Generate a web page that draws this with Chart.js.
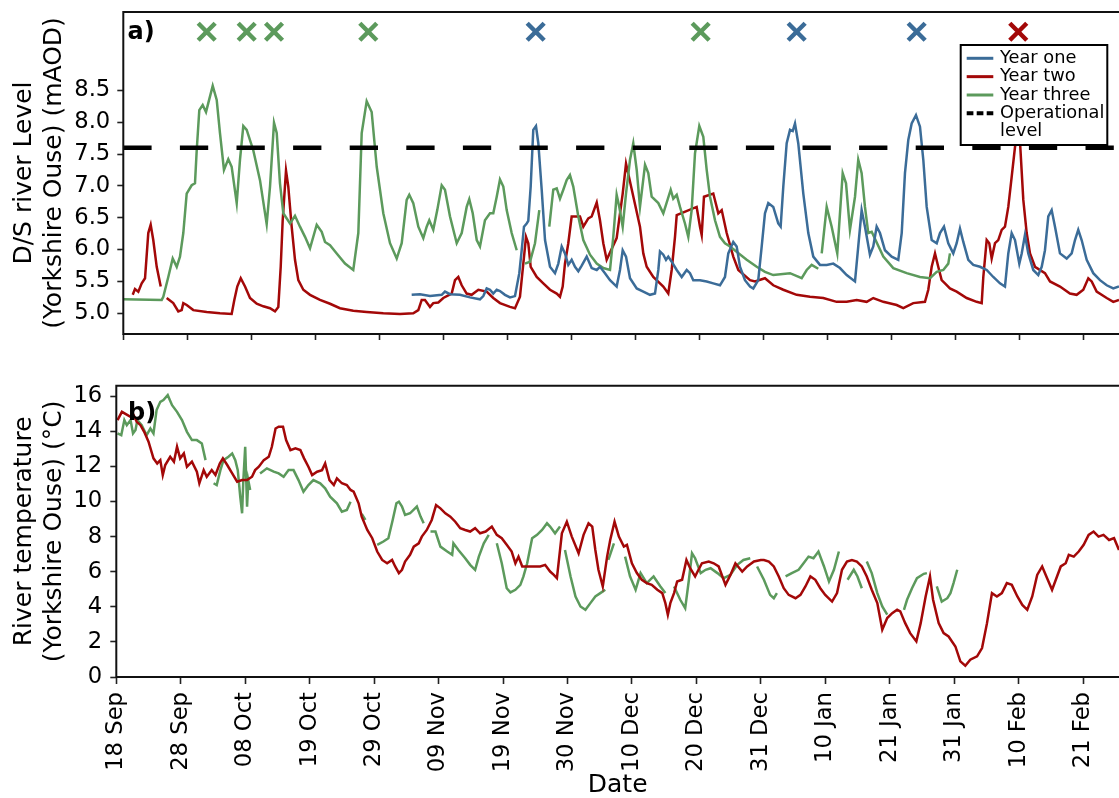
<!DOCTYPE html>
<html>
<head>
<meta charset="utf-8">
<script src="https://cdn.jsdelivr.net/npm/chart.js@4.4.1/dist/chart.umd.min.js"></script>
<style>
html,body{margin:0;padding:0;background:#fff;overflow:hidden;width:1119px;height:798px;}
canvas{position:absolute;left:0;}
#topChart{top:0;}
#botChart{top:362px;}
</style>
</head>
<body>
<canvas id="topChart" width="1119" height="362"></canvas>
<canvas id="botChart" width="1119" height="436"></canvas>
<script>
// ---------------- DATA ----------------
// x values are days after 18 Sep
const dateLabels = ['18 Sep','28 Sep','08 Oct','19 Oct','29 Oct','09 Nov','19 Nov','30 Nov','10 Dec','20 Dec','31 Dec','10 Jan','21 Jan','31 Jan','10 Feb','21 Feb'];
const tickDays = [0,10.4,20.8,31.2,41.6,52,62.4,72.8,83.2,93.6,104,114.4,124.8,135.2,145.6,156];
const levelTicks = [5.0,5.5,6.0,6.5,7.0,7.5,8.0,8.5];
const tempTicks = [0,2,4,6,8,10,12,14,16];
const operationalLevel = 7.6;
const eventsYearOne = [67.01,109.42,128.92];
const eventsYearTwo = [145.43];
const eventsYearThree = [13.55,20.05,24.49,39.81,93.82];
const eventMarkerLevel = 9.42;

// Panel a) D/S river level (mAOD): [day, level]
const levelYearOne = [[46.86,5.29],[48.21,5.30],[49.84,5.27],[51.74,5.29],[52.27,5.34],[53.09,5.30],[54.71,5.29],[56.34,5.25],[57.96,5.22],[58.50,5.27],[59.05,5.39],[59.59,5.37],[60.12,5.31],[60.68,5.37],[61.21,5.35],[62.02,5.29],[62.84,5.25],[63.65,5.27],[64.35,5.63],[64.74,5.99],[65.11,6.36],[65.55,6.41],[65.81,6.45],[66.20,6.99],[66.62,7.88],[67.06,7.94],[67.44,7.67],[67.99,6.94],[68.53,6.15],[69.34,5.73],[70.15,5.63],[70.69,5.78],[71.24,6.05],[71.77,5.94],[72.31,5.76],[72.86,5.84],[73.40,5.73],[73.94,5.66],[74.49,5.75],[75.30,5.89],[76.11,5.71],[76.93,5.68],[77.46,5.73],[78.27,5.63],[79.09,5.52],[80.17,5.42],[80.71,5.68],[81.15,5.99],[81.69,5.89],[82.34,5.55],[83.43,5.39],[84.50,5.34],[85.59,5.29],[86.40,5.31],[86.94,5.68],[87.21,5.97],[87.75,5.92],[88.19,5.84],[88.56,5.89],[89.11,5.81],[89.93,5.68],[90.74,5.57],[91.55,5.68],[92.09,5.63],[92.62,5.52],[93.71,5.52],[94.80,5.50],[95.87,5.47],[96.96,5.44],[97.77,5.57],[98.31,5.94],[99.12,6.12],[99.67,6.05],[100.21,5.73],[101.02,5.52],[101.84,5.42],[102.37,5.39],[103.18,5.52],[103.74,6.05],[104.27,6.57],[104.81,6.73],[105.62,6.67],[106.43,6.41],[106.82,6.36],[107.25,6.99],[107.80,7.67],[108.34,7.88],[108.78,7.86],[109.15,7.98],[109.68,7.67],[110.50,6.88],[111.31,6.26],[112.12,5.89],[113.21,5.76],[114.30,5.76],[115.37,5.78],[116.46,5.71],[117.55,5.60],[118.90,5.50],[119.43,6.05],[119.98,6.62],[120.52,6.36],[121.33,5.92],[121.87,6.05],[122.42,6.36],[122.96,6.26],[123.77,5.99],[124.86,5.89],[125.93,5.84],[126.49,6.26],[127.02,7.20],[127.56,7.72],[128.11,7.98],[128.81,8.11],[129.46,7.93],[130.00,7.41],[130.55,6.67],[131.36,6.15],[132.18,6.10],[132.71,6.26],[133.36,6.36],[134.06,6.10],[134.87,5.94],[135.42,6.10],[135.96,6.33],[136.50,6.12],[137.31,5.84],[138.12,5.76],[139.21,5.73],[140.30,5.68],[141.37,5.57],[142.46,5.47],[143.27,5.42],[143.81,5.94],[144.36,6.26],[144.90,6.15],[145.60,5.78],[145.99,5.94],[146.52,6.23],[147.06,5.94],[147.87,5.68],[148.68,5.60],[149.24,5.73],[149.77,5.99],[150.31,6.52],[150.86,6.62],[151.40,6.36],[152.21,5.94],[153.30,5.86],[154.11,5.94],[154.65,6.15],[155.18,6.31],[155.73,6.15],[156.55,5.84],[157.62,5.63],[158.71,5.52],[159.80,5.44],[160.87,5.39],[161.80,5.42]];

const levelYearTwo = [[1.53,5.29],[1.90,5.38],[2.44,5.34],[2.99,5.47],[3.53,5.55],[4.06,6.26],[4.45,6.39],[4.87,6.15],[5.43,5.73],[6.08,5.42],[6.5,null],[7.05,5.24],[8.12,5.16],[8.94,5.03],[9.49,5.05],[9.75,5.16],[10.30,5.13],[11.37,5.05],[13.55,5.02],[15.71,5.00],[17.61,4.99],[18.04,5.21],[18.52,5.42],[19.08,5.55],[19.78,5.42],[20.59,5.24],[21.68,5.15],[22.75,5.11],[23.84,5.08],[24.65,5.03],[25.19,5.10],[25.58,5.73],[25.90,6.46],[26.44,7.24],[26.81,6.99],[27.36,6.36],[27.90,5.84],[28.44,5.52],[29.25,5.37],[30.34,5.29],[31.96,5.21],[33.59,5.15],[35.21,5.08],[37.37,5.04],[39.55,5.02],[42.25,5.00],[44.96,4.99],[47.12,5.00],[47.94,5.05],[48.49,5.21],[49.02,5.21],[49.84,5.10],[50.37,5.16],[51.19,5.17],[52.00,5.24],[53.36,5.31],[53.90,5.52],[54.44,5.57],[54.99,5.44],[55.80,5.31],[56.61,5.29],[57.69,5.37],[59.05,5.34],[60.12,5.24],[61.21,5.16],[62.84,5.10],[63.65,5.08],[64.46,5.26],[65.44,6.20],[65.81,6.10],[66.20,5.73],[67.18,5.57],[68.25,5.47],[69.34,5.37],[70.43,5.31],[70.96,5.26],[71.40,5.42],[71.77,5.78],[72.31,6.10],[72.86,6.52],[74.21,6.52],[74.75,6.36],[75.56,6.49],[76.11,6.52],[76.93,6.74],[77.46,6.46],[78.00,6.10],[78.55,5.84],[80.17,6.18],[81.15,6.88],[81.69,7.35],[83.96,6.36],[84.50,5.94],[85.05,5.73],[86.12,5.57],[87.75,5.42],[88.56,5.31],[89.11,5.68],[89.65,6.20],[89.93,6.54],[93.17,6.67],[93.71,6.36],[93.99,6.23],[94.36,6.83],[95.87,6.88],[96.69,6.57],[97.24,6.62],[98.05,6.26],[99.12,5.89],[99.94,5.68],[101.84,5.52],[102.65,5.50],[104.27,5.55],[105.62,5.44],[107.25,5.37],[109.42,5.29],[111.59,5.26],[113.75,5.24],[115.92,5.18],[117.55,5.18],[119.17,5.21],[120.80,5.18],[121.87,5.24],[123.50,5.18],[125.67,5.13],[126.75,5.08],[128.37,5.16],[130.27,5.18],[130.81,5.37],[131.36,5.73],[131.90,5.94],[132.43,5.73],[132.98,5.52],[133.52,5.47],[134.33,5.39],[135.42,5.34],[137.05,5.24],[138.67,5.18],[139.49,5.16],[139.75,5.57],[140.30,6.15],[140.72,6.10],[141.11,5.86],[141.65,6.10],[142.18,6.15],[142.74,6.31],[143.27,6.36],[143.81,6.67],[144.36,7.14],[144.90,7.61],[145.43,7.90],[145.71,7.70],[146.25,6.78],[146.80,6.26],[147.34,5.94],[148.15,5.73],[149.77,5.63],[150.59,5.50],[152.21,5.42],[153.83,5.31],[154.92,5.29],[156.00,5.37],[156.81,5.55],[157.36,5.50],[158.17,5.34],[159.80,5.24],[160.87,5.18],[161.80,5.21]];

const levelYearThree = [[0,5.22],[6.24,5.21],[6.50,5.26],[7.31,5.57],[8.03,5.86],[8.68,5.73],[9.21,5.89],[9.75,6.26],[10.30,6.88],[11.11,7.01],[11.65,7.04],[11.93,7.56],[12.35,8.19],[12.90,8.27],[13.44,8.16],[13.81,8.30],[14.53,8.57],[15.18,8.35],[15.71,7.83],[16.36,7.25],[17.06,7.42],[17.61,7.30],[18.43,6.73],[18.96,7.41],[19.50,7.94],[20.05,7.88],[21.12,7.56],[22.21,7.09],[23.30,6.40],[23.84,6.99],[24.49,7.99],[24.93,7.83],[25.46,7.04],[26.00,6.57],[27.09,6.41],[27.90,6.53],[28.71,6.36],[29.53,6.20],[30.34,6.02],[31.43,6.39],[32.24,6.28],[32.78,6.12],[33.59,6.07],[34.68,5.94],[36.03,5.78],[37.37,5.68],[38.19,6.26],[38.74,7.83],[39.55,8.33],[40.36,8.16],[41.18,7.30],[42.25,6.57],[43.34,6.10],[44.43,5.86],[45.24,6.10],[46.05,6.78],[46.47,6.86],[47.12,6.73],[47.94,6.36],[48.75,6.18],[49.30,6.36],[49.72,6.46],[50.37,6.31],[51.02,6.62],[51.74,7.01],[52.27,6.94],[53.09,6.52],[54.18,6.10],[54.99,6.26],[55.80,6.67],[56.22,6.79],[56.78,6.57],[57.43,6.15],[57.96,6.05],[58.77,6.46],[59.59,6.57],[60.12,6.57],[60.68,6.83],[61.21,7.10],[61.75,6.99],[62.30,6.62],[63.11,6.26],[63.93,5.99],[64.6,null],[65.27,5.78],[66.09,5.81],[66.90,6.10],[67.60,6.62],[68.4,null],[69.22,6.36],[69.87,6.94],[70.43,6.96],[70.96,6.80],[71.50,6.94],[72.05,7.09],[72.58,7.17],[73.12,6.99],[73.94,6.52],[74.75,6.15],[75.84,5.92],[76.93,5.78],[78.00,5.71],[79.09,5.68],[79.62,6.20],[80.17,6.86],[80.60,6.67],[81.15,6.36],[81.69,6.88],[82.34,7.41],[82.87,7.67],[83.43,7.25],[83.96,6.67],[84.78,7.33],[85.31,7.20],[85.86,6.83],[86.94,6.73],[87.75,6.57],[88.95,6.94],[89.37,6.80],[89.93,6.86],[90.46,6.67],[91.27,6.41],[91.81,6.20],[92.36,6.62],[92.90,7.51],[93.60,7.94],[94.25,7.77],[94.80,7.25],[95.34,6.83],[96.15,6.46],[96.96,6.20],[97.77,6.10],[98.59,6.05],[101.30,5.84],[102.93,5.73],[104.27,5.65],[105.62,5.60],[108.34,5.63],[110.24,5.55],[111.05,5.68],[111.86,5.76],[112.93,5.70],[113.2,null],[113.49,5.94],[114.30,6.67],[115.11,6.36],[116.02,5.94],[116.90,7.20],[117.44,7.04],[118.08,6.31],[118.90,6.83],[119.43,7.41],[119.98,7.20],[120.52,6.67],[121.06,6.26],[121.61,6.28],[123.50,5.89],[125.12,5.71],[127.30,5.63],[129.46,5.57],[131.09,5.55],[132.18,5.65],[133.25,5.68],[134.06,5.78],[134.33,5.94]];

// Panel b) river temperature (°C): [day, temperature]
const tempYearTwo = [[0.2,14.64],[0.9,15.11],[2.3,14.83],[2.8,14.92],[3.3,14.54],[3.9,14.35],[4.5,13.97],[5.2,13.41],[6.0,12.46],[6.6,12.17],[7.1,12.36],[7.5,11.51],[7.9,12.08],[8.7,12.55],[9.3,12.27],[9.8,13.12],[10.3,12.46],[10.9,12.74],[11.4,11.98],[12.2,12.27],[13.0,11.70],[13.4,11.04],[14.1,11.79],[14.6,11.41],[15.4,11.79],[16.0,11.51],[16.7,12.17],[17.2,12.46],[17.9,12.08],[18.7,11.60],[19.5,11.13],[20.3,11.22],[21.1,11.22],[21.9,11.41],[22.4,11.79],[23.0,11.98],[23.8,12.36],[24.6,12.55],[25.1,13.12],[25.7,14.16],[26.2,14.26],[26.9,14.26],[27.4,13.50],[28.1,12.93],[28.9,13.03],[29.7,12.93],[30.3,12.46],[31.0,11.98],[31.6,11.51],[32.4,11.70],[33.2,11.79],[33.7,12.17],[34.4,11.22],[35.1,10.94],[35.6,11.32],[36.4,11.04],[37.2,10.94],[37.8,10.66],[38.3,10.56],[39.1,9.90],[39.6,9.14],[40.5,8.38],[41.3,7.91],[42.1,7.15],[42.9,6.67],[43.7,6.48],[44.5,6.67],[45.0,6.30],[45.6,5.92],[46.1,6.11],[46.6,6.58],[47.4,6.96],[48.0,7.43],[48.8,7.62],[49.3,8.00],[50.1,8.38],[50.9,8.95],[51.6,9.80],[52.3,9.61],[53.1,9.33],[53.9,9.14],[54.7,8.85],[55.5,8.48],[56.3,8.38],[57.1,8.29],[57.9,8.48],[58.7,8.19],[59.6,8.29],[60.6,8.57],[61.4,8.10],[62.2,7.91],[63.0,7.53],[63.8,7.15],[64.4,6.48],[64.9,6.86],[65.5,6.30],[66.3,6.30],[67.4,6.30],[68.4,6.30],[69.2,6.39],[70.0,6.01],[70.6,5.82],[71.1,5.63],[71.9,8.19],[72.7,8.85],[73.5,8.00],[74.6,7.05],[75.4,8.10],[76.2,8.76],[76.8,8.57],[77.3,7.24],[77.8,6.11],[78.5,5.16],[79.2,6.86],[79.7,7.81],[80.4,8.85],[81.1,8.00],[81.9,7.43],[82.4,7.53],[83.2,6.48],[84.0,5.92],[84.8,5.54],[85.6,5.35],[86.4,5.25],[87.3,4.97],[88.1,4.78],[88.6,4.21],[89.0,3.55],[89.4,4.21],[90.0,4.78],[90.5,5.44],[91.3,5.54],[92.0,6.67],[92.6,6.20],[93.4,5.73],[93.8,6.01],[94.5,6.48],[95.6,6.58],[96.4,6.48],[97.2,6.30],[98.3,5.25],[99.1,5.82],[99.9,6.48],[101.0,6.01],[101.8,6.30],[102.9,6.58],[104.0,6.67],[104.5,6.67],[105.3,6.58],[106.1,6.30],[106.9,5.73],[107.7,5.06],[108.5,4.68],[109.6,4.49],[110.4,4.68],[111.2,5.16],[112.0,5.73],[112.8,5.54],[113.6,5.06],[114.4,4.68],[115.5,4.30],[116.3,4.78],[117.1,6.11],[117.9,6.58],[118.7,6.67],[119.5,6.58],[120.3,6.30],[121.1,5.73],[121.9,4.97],[122.8,4.21],[123.6,2.69],[124.4,3.36],[125.2,3.64],[126.0,3.83],[126.5,3.74],[127.3,3.07],[128.1,2.50],[129.1,2.03],[129.8,3.07],[130.6,4.59],[131.3,5.73],[131.8,4.40],[132.7,3.07],[133.5,2.50],[134.3,2.31],[135.4,1.74],[136.2,0.89],[137.0,0.64],[137.8,0.99],[138.9,1.18],[139.7,1.65],[140.5,3.07],[141.3,4.78],[142.1,4.59],[142.9,4.78],[143.7,5.35],[144.5,5.25],[145.4,4.59],[146.2,4.11],[147.0,3.83],[147.8,4.59],[148.6,5.82],[149.4,6.30],[150.2,5.63],[151.0,4.97],[151.5,5.44],[152.4,6.30],[153.2,6.48],[153.7,6.96],[154.5,6.86],[155.3,7.15],[156.1,7.53],[156.9,8.10],[157.7,8.29],[158.5,8.00],[159.3,8.10],[160.2,7.81],[161.0,7.91],[161.8,7.24]];

const tempYearThree = [[0.2,13.88],[0.8,13.78],[1.3,14.64],[1.7,14.35],[2.3,14.64],[2.7,13.88],[3.1,14.07],[3.4,14.64],[4.1,14.35],[4.9,13.78],[5.5,14.16],[6.0,13.88],[6.5,15.21],[7.1,15.68],[7.6,15.78],[8.3,16.06],[9.0,15.49],[9.8,15.11],[10.6,14.64],[11.4,13.97],[12.2,13.50],[13.0,13.50],[13.8,13.31],[14.4,12.36],[15.0,null],[15.7,11.04],[16.2,10.94],[16.8,11.79],[17.3,12.36],[18.1,12.55],[18.7,12.74],[19.2,12.36],[19.6,11.79],[20.0,10.28],[20.3,9.33],[20.5,11.22],[20.8,13.12],[21.1,9.71],[21.3,11.2],[21.6,10.66],[22.4,null],[23.2,11.60],[24.3,11.89],[25.4,11.70],[26.2,11.60],[27.0,11.41],[27.8,11.79],[28.6,11.79],[29.4,11.22],[30.2,10.56],[31.0,10.94],[31.8,11.22],[32.9,11.04],[33.7,10.75],[34.5,10.28],[35.6,9.90],[36.4,9.42],[37.2,9.52],[37.8,9.99],[38.7,null],[39.6,9.30],[40.2,8.95],[41.1,null],[42.1,7.53],[43.1,7.72],[43.9,7.91],[44.6,8.95],[45.2,9.90],[45.6,9.99],[46.1,9.71],[46.6,9.23],[47.4,9.33],[48.5,9.71],[49.1,9.14],[49.6,8.76],[50.2,null],[50.7,8.29],[51.5,8.29],[52.3,7.43],[53.4,7.15],[54.2,6.96],[54.4,7.62],[55.2,7.24],[56.3,6.77],[57.1,6.39],[57.9,6.11],[58.5,6.86],[59.3,7.62],[60.1,8.10],[60.8,null],[61.4,7.62],[62.2,6.48],[63.0,5.06],[63.6,4.82],[64.4,4.97],[65.2,5.25],[65.7,5.73],[66.3,6.48],[67.1,7.91],[67.9,8.10],[68.7,8.38],[69.5,8.76],[70.0,8.57],[70.8,8.19],[71.6,8.57],[72.0,null],[72.4,7.24],[73.3,5.73],[74.1,4.59],[74.9,4.02],[75.7,3.83],[76.5,4.21],[77.3,4.59],[78.1,4.78],[78.9,4.97],[79.1,null],[79.4,6.67],[80.3,7.62],[81.2,null],[82.1,6.86],[82.9,5.73],[83.8,4.97],[84.6,5.92],[85.6,5.35],[86.7,5.73],[87.8,5.16],[88.6,4.78],[89.3,null],[90.0,5.16],[91.0,4.40],[91.8,3.92],[92.4,5.54],[92.9,7.05],[93.4,6.77],[94.3,5.92],[95.1,6.11],[95.9,6.20],[97.0,5.92],[98.0,5.63],[99.1,5.82],[100.2,6.39],[101.2,6.67],[102.3,6.77],[102.9,null],[103.4,6.30],[104.5,5.54],[105.5,4.68],[106.1,4.49],[106.6,4.78],[107.3,null],[108.0,5.73],[109.0,5.92],[110.1,6.11],[110.9,6.48],[111.7,6.86],[112.5,6.77],[113.3,7.15],[114.2,6.30],[115.0,5.44],[115.8,6.11],[116.6,7.15],[117.3,null],[118.0,5.54],[119.0,6.11],[119.6,5.73],[120.3,5.06],[120.7,null],[121.1,6.58],[121.9,5.92],[122.8,4.78],[123.6,4.02],[124.4,3.55],[125.8,null],[127.1,3.83],[127.6,4.40],[128.4,5.06],[129.2,5.63],[130.3,5.88],[130.8,5.92],[131.6,null],[132.4,5.16],[133.2,4.30],[134.1,4.49],[134.6,4.78],[135.1,5.35],[135.7,6.11]];

// ---------------- STYLE ----------------
const BLUE = '#3b6c98', RED = '#a30808', GREEN = '#5c9a5c';
const FONT = "'DejaVu Sans', sans-serif";
const X_MIN = 0, X_MAX = 161.8;
Chart.defaults.font.family = FONT;
Chart.defaults.color = '#000';

const xy = pairs => pairs.map(p => ({x: p[0], y: p[1]}));
const series = (label, pairs, color) => ({type: 'line', label, data: xy(pairs), borderColor: color, backgroundColor: color, borderWidth: 2.5, pointRadius: 0, tension: 0, spanGaps: false, fill: false, legendItem: true});
const markers = (days, color) => ({type: 'scatter', label: 'events', data: days.map(d => ({x: d, y: eventMarkerLevel})), showLine: false, pointStyle: 'crossRot', pointRadius: 12, pointBorderWidth: 4.5, borderWidth: 4.5, borderColor: color, backgroundColor: color});

const gridTicks = len => ({display: true, drawOnChartArea: false, drawTicks: true, tickLength: len, tickWidth: 1.6, tickColor: '#222', color: '#222'});
const noVPad = s => { s.paddingTop = 0; s.paddingBottom = 0; };

function framePlugin(label, lx, ly, legend) {
  return {
    id: 'frame' + label,
    afterDatasetsDraw(chart) {
      const {ctx, chartArea: a} = chart;
      ctx.save();
      ctx.strokeStyle = '#111';
      ctx.lineWidth = 2;
      ctx.beginPath();
      ctx.moveTo(a.right + 3, a.top);
      ctx.lineTo(a.left, a.top);
      ctx.lineTo(a.left, a.bottom);
      ctx.lineTo(a.right + 3, a.bottom);
      ctx.stroke();
      ctx.fillStyle = '#000';
      ctx.font = 'bold 24px ' + FONT;
      ctx.textBaseline = 'alphabetic';
      ctx.textAlign = 'left';
      ctx.fillText(label, lx, ly);
      if (legend) {
        const bx = 960.7, by = 45, bw = 146.6, bh = 100;
        ctx.fillStyle = '#fff';
        ctx.fillRect(bx, by, bw, bh);
        ctx.strokeStyle = '#000';
        ctx.lineWidth = 2;
        ctx.strokeRect(bx, by, bw, bh);
        const items = chart.data.datasets.filter(d => d.legendItem).sort((p, q) => p.legendOrder - q.legendOrder);
        ctx.font = '17.8px ' + FONT;
        ctx.textBaseline = 'middle';
        let y = 58.3;
        items.forEach(d => {
          ctx.beginPath();
          ctx.strokeStyle = d.borderColor;
          ctx.lineWidth = d.borderDash ? 4 : 3;
          ctx.setLineDash(d.borderDash ? [6.7, 3.3] : []);
          ctx.moveTo(966.7, y);
          ctx.lineTo(993.3, y);
          ctx.stroke();
          ctx.setLineDash([]);
          ctx.fillStyle = '#000';
          const lines = Array.isArray(d.legendText) ? d.legendText : [d.label];
          lines.forEach((t, i) => ctx.fillText(t, 1000, y + i * 18.35));
          y += 18.35 * lines.length;
        });
      }
      ctx.restore();
    }
  };
}

// ---------------- TOP CHART ----------------
const opDataset = {type: 'line', label: 'Operational level', legendText: ['Operational', 'level'], legendItem: true, legendOrder: 4,
  data: [{x: X_MIN, y: operationalLevel}, {x: X_MAX, y: operationalLevel}],
  borderColor: '#000', borderWidth: 4.5, borderDash: [28.3, 28.3], pointRadius: 0, fill: false};
const y1 = Object.assign(series('Year one', levelYearOne, BLUE), {legendOrder: 1});
const y3 = Object.assign(series('Year three', levelYearThree, GREEN), {legendOrder: 3});
const y2 = Object.assign(series('Year two', levelYearTwo, RED), {legendOrder: 2});

new Chart(document.getElementById('topChart'), {
  type: 'line',
  data: {datasets: [opDataset, markers(eventsYearOne, BLUE), markers(eventsYearTwo, RED), markers(eventsYearThree, GREEN), y1, y3, y2]},
  options: {
    responsive: false, animation: false, devicePixelRatio: 1, events: [],
    layout: {autoPadding: false, padding: {top: 12, left: 0, right: 0, bottom: 0}},
    plugins: {legend: {display: false}, tooltip: {enabled: false}},
    scales: {
      x: {type: 'linear', min: X_MIN, max: X_MAX,
        afterBuildTicks: s => { s.ticks = tickDays.map(v => ({value: v})); },
        afterFit: s => { s.height = 28; s.paddingLeft = 0; s.paddingRight = 0; },
        ticks: {display: false, autoSkip: false},
        grid: gridTicks(6), border: {display: false}},
      y: {type: 'linear', min: 4.675, max: 9.73,
        afterBuildTicks: s => { s.ticks = levelTicks.map(v => ({value: v})); },
        afterFit: s => { s.width = 123.3; noVPad(s); },
        ticks: {autoSkip: false, padding: 7, font: {size: 22.7}, callback: v => Number(v).toFixed(1)},
        grid: gridTicks(6), border: {display: false},
        title: {display: true, text: ['D/S river Level', '(Yorkshire Ouse) (mAOD)'], font: {size: 25, lineHeight: 1.2}, padding: {top: 9, bottom: 0}}}
    }
  },
  plugins: [framePlugin('a)', 127.5, 38.5, true)]
});

// ---------------- BOTTOM CHART ----------------
new Chart(document.getElementById('botChart'), {
  type: 'line',
  data: {datasets: [series('Year two', tempYearTwo, RED), series('Year three', tempYearThree, GREEN)]},
  options: {
    responsive: false, animation: false, devicePixelRatio: 1, events: [],
    layout: {autoPadding: false, padding: {top: 23.7, left: 0, right: 0, bottom: 0}},
    plugins: {legend: {display: false}, tooltip: {enabled: false}},
    scales: {
      x: {type: 'linear', min: X_MIN, max: X_MAX,
        afterBuildTicks: s => { s.ticks = tickDays.map(v => ({value: v})); },
        afterFit: s => { s.height = 121; s.paddingLeft = 0; s.paddingRight = 0; },
        ticks: {autoSkip: false, minRotation: 90, maxRotation: 90, padding: 8, font: {size: 22.7},
          callback: (v, i) => dateLabels[i]},
        grid: gridTicks(7), border: {display: false},
        title: {display: true, text: 'Date', font: {size: 25, lineHeight: 1.0}, padding: {top: 0, bottom: 0}}},
      y: {type: 'linear', min: 0, max: 16.6,
        afterBuildTicks: s => { s.ticks = tempTicks.map(v => ({value: v})); },
        afterFit: s => { s.width = 116.3; noVPad(s); },
        ticks: {autoSkip: false, padding: 8, font: {size: 22.7}, callback: v => String(v)},
        grid: gridTicks(6), border: {display: false},
        title: {display: true, text: ['River temperature', '(Yorkshire Ouse) (°C)'], font: {size: 25, lineHeight: 1.2}, padding: {top: 9, bottom: 0}}}
    }
  },
  plugins: [framePlugin('b)', 128, 58, false)]
});
</script>
</body>
</html>
